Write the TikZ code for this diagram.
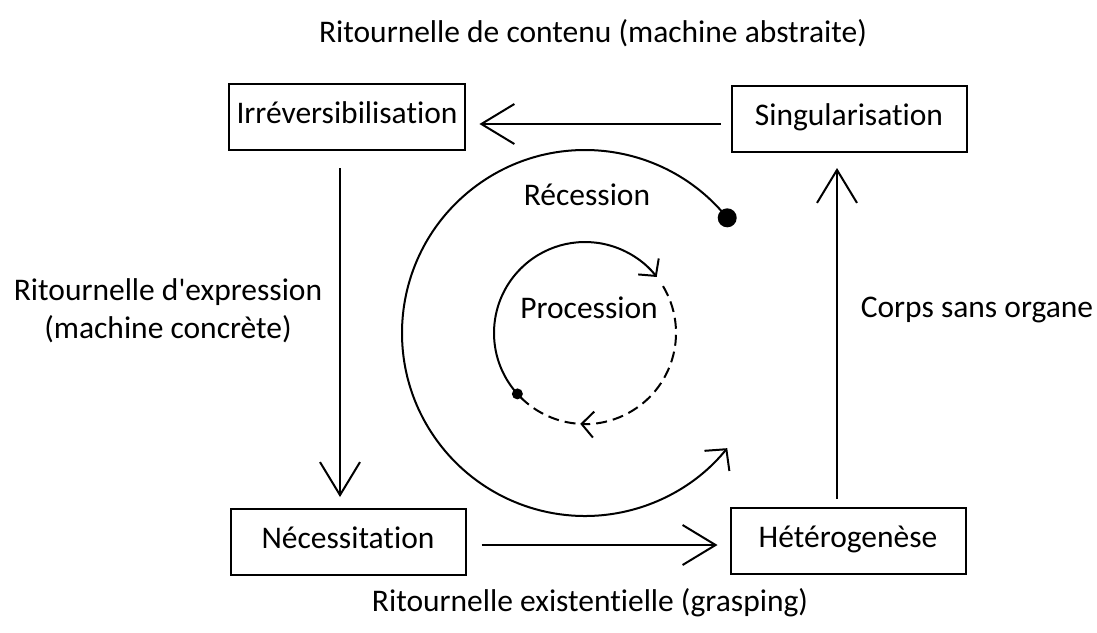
\documentclass[tikz,border=0pt]{standalone}
\usepackage{fontspec}
\setmainfont{Carlito}[Ligatures=NoCommon]
\usetikzlibrary{arrows.meta}

\begin{document}
\begin{tikzpicture}[x=1pt,y=-1pt,line width=2pt,
		every node/.style={font=\fontsize{31.5}{38}\selectfont},
		box/.style={draw,rectangle,minimum width=235pt,minimum height=66pt,inner xsep=8pt,text height=21pt,text depth=8pt},
		arr/.style={-{Straight Barb[length=33pt,width=40pt]}},
		bendarr/.style={-{Straight Barb[length=15pt,width=32pt]}},
		smallarr/.style={-{Straight Barb[length=12pt,width=26pt]}}]
		\useasboundingbox (0,0) rectangle (1097,632);
		\node[box] (irr) at (347,117) {Irréversibilisation};
		\node[box] (sing) at (849,119) {Singularisation};
		\node[box] (nec) at (348,542) {Nécessitation};
		\node[box] (het) at (848,541) {Hétérogenèse};
		\draw[arr,shorten <=10pt,shorten >=13pt] ([yshift=-5pt]sing.west) -- ([yshift=-7pt]irr.east);
		\draw[arr,shorten <=17pt,shorten >=11pt] ([xshift=-7pt]irr.south) -- ([xshift=-8pt]nec.north);
		\draw[arr,shorten <=15pt,shorten >=12pt] ([yshift=-3pt]nec.east) -- ([yshift=-4pt]het.west);
		\draw[arr,shorten <=8pt,shorten >=15pt] ([xshift=-11pt]het.north) -- ([xshift=-12pt]sing.south);
		\coordinate (mid) at (585,333);
		\draw[bendarr] (mid) ++(-39:183) arc[start angle=-39,end angle=-321,radius=183];
		\fill (mid) ++(-39:183) circle (9.5);
		\draw[smallarr] (mid) ++(138:91) arc[start angle=138,end angle=322,radius=91];
		\draw[smallarr,dash pattern=on 11pt off 6pt] (mid) ++(329:91) arc[start angle=329,end angle=453,radius=91];
		\draw[dash pattern=on 11pt off 6pt] (mid) ++(456:91) arc[start angle=456,end angle=498,radius=91];
		\fill (mid) ++(138:91) circle (5.5);
		\node (rec) at (587,195) {Récession};
		\node (proc) at (589,308) {Procession};
		\node (cont) at (593,33) {Ritournelle de contenu (machine abstraite)};
		\node (exist) at (590,603) {Ritournelle existentielle (grasping)};
		\node[align=center] (expr) at (168,311) {Ritournelle d\textquotesingle expression\\(machine concrète)};
		\node (corps) at (977,310) {Corps sans organe};
	\end{tikzpicture}
\end{document}
